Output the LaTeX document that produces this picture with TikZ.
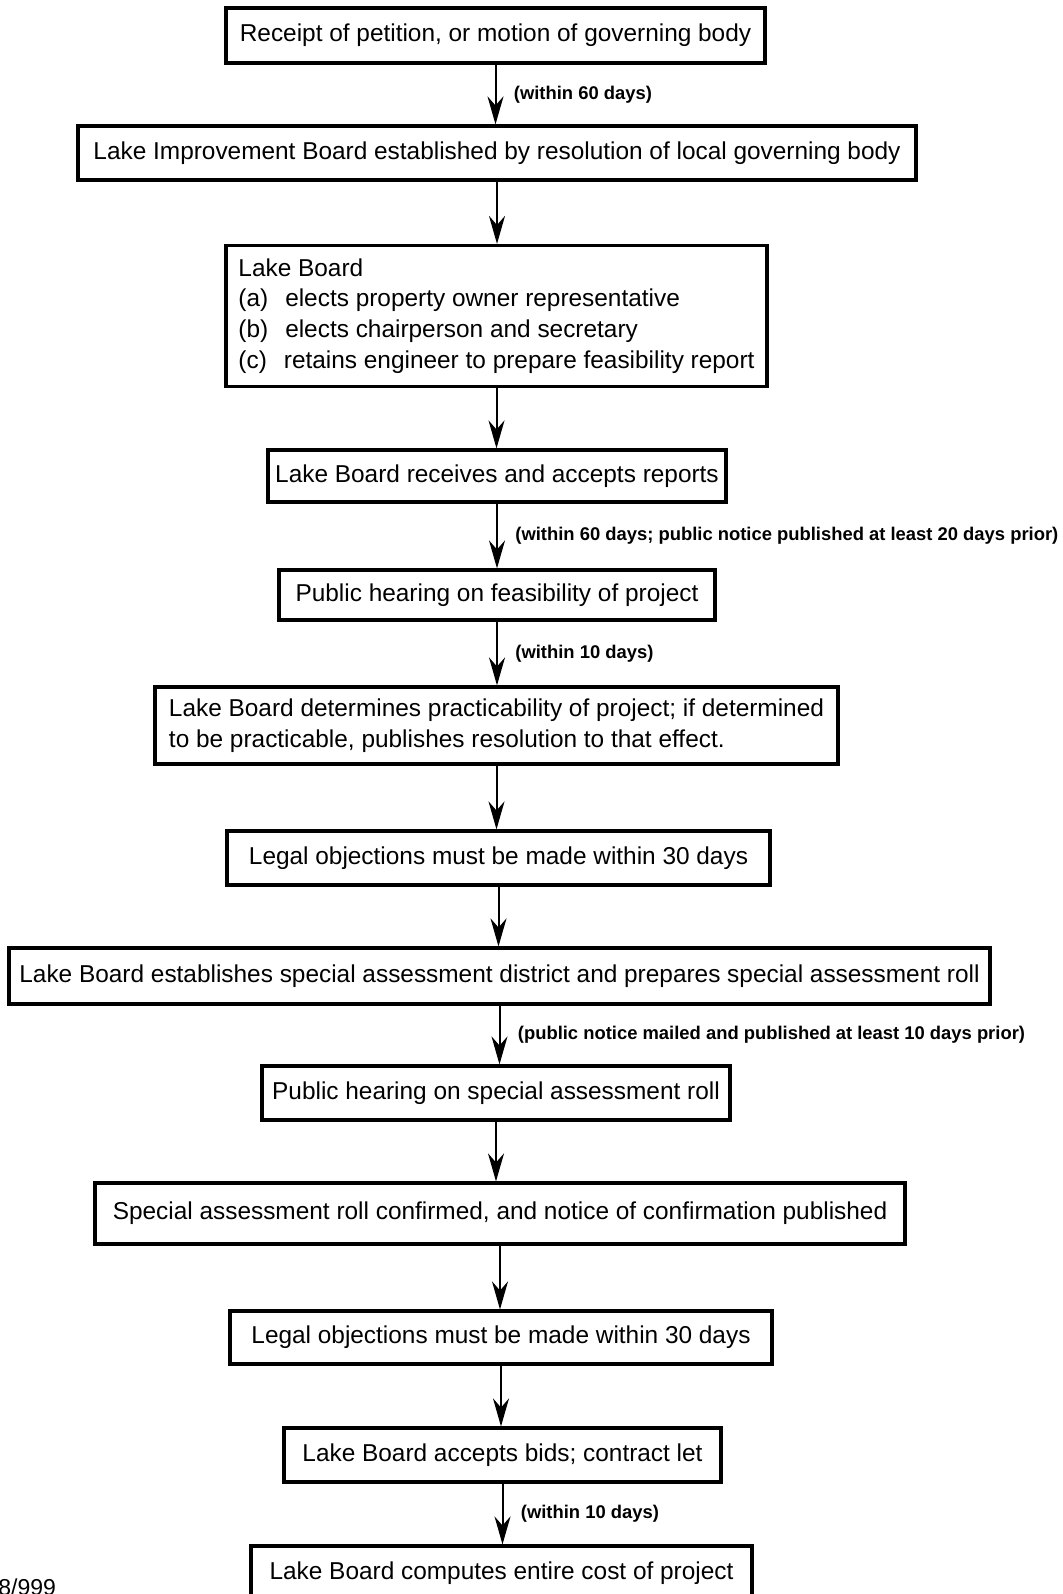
\documentclass[tikz,border=0pt]{standalone}
\usepackage{fontspec}
\setmainfont{Liberation Sans}
\usetikzlibrary{arrows.meta}

\begin{document}
\begin{tikzpicture}[
    x=0.5pt, y=-0.5pt,
    stepbox/.style={draw, line width=1.6pt, inner sep=0pt, align=left,
        font=\fontsize{12.2}{15.4}\selectfont},
    flow/.style={draw, line width=1pt, -{Stealth[length=14pt, width=8pt]}},
    note/.style={anchor=west, inner sep=0pt, xshift=9pt,
        font=\fontsize{9.2}{11}\selectfont\bfseries}
]
    \useasboundingbox (0,0) rectangle (1063,1594);

    % steps, top to bottom
    \node[stepbox, minimum width=269.5pt, minimum height=27.5pt] (b1) at (495.5,35.5)
        {Receipt of petition, or motion of governing body};
    \node[stepbox, minimum width=419pt, minimum height=27pt] (b2) at (497,153)
        {Lake Improvement Board established by resolution of local governing body};
    \node[stepbox, minimum width=270.5pt, minimum height=70.5pt] (b3) at (496.5,316)
        {Lake Board\\
         (a)\hspace{8.5pt}elects property owner representative\\
         (b)\hspace{8.5pt}elects chairperson and secretary\\
         (c)\hspace{8.5pt}retains engineer to prepare feasibility report};
    \node[stepbox, minimum width=229pt, minimum height=26pt] (b4) at (497,476)
        {Lake Board receives and accepts reports};
    \node[stepbox, minimum width=218pt, minimum height=25pt] (b5) at (497,595)
        {Public hearing on feasibility of project};
    \node[stepbox, minimum width=341.5pt, minimum height=38.5pt] (b6) at (496.5,725.5)
        {Lake Board determines practicability of project; if determined\\
         to be practicable, publishes resolution to that effect.};
    \node[stepbox, minimum width=271.5pt, minimum height=27pt] (b7) at (498.5,858)
        {Legal objections must be made within 30 days};
    \node[stepbox, minimum width=490.5pt, minimum height=28pt] (b8) at (499.5,976)
        {Lake Board establishes special assessment district and prepares special assessment roll};
    \node[stepbox, minimum width=234pt, minimum height=27pt] (b9) at (496,1093)
        {Public hearing on special assessment roll};
    \node[stepbox, minimum width=405pt, minimum height=30.5pt] (b10) at (500,1213.5)
        {Special assessment roll confirmed, and notice of confirmation published};
    \node[stepbox, minimum width=271pt, minimum height=26.5pt] (b11) at (501,1337.5)
        {Legal objections must be made within 30 days};
    \node[stepbox, minimum width=218.5pt, minimum height=27pt] (b12) at (502.5,1455)
        {Lake Board accepts bids; contract let};
    \node[stepbox, minimum width=250.5pt, minimum height=27pt] (b13) at (501.5,1573)
        {Lake Board computes entire cost of project};

    \node[anchor=base west, inner sep=0pt, font=\fontsize{11.5}{14}\selectfont] (pageno)
        at (-2,1595) {8/999};

    % connectors
    \foreach \a/\b in {b1/b2, b2/b3, b3/b4, b4/b5, b5/b6, b6/b7, b7/b8,
                       b8/b9, b9/b10, b10/b11, b11/b12, b12/b13} {
        \draw[flow] (\a.south) -- (\a.south |- \b.north);
    }

    % time limits
    \path (b1.south) -- (b1.south |- b2.north) node[note, midway] {(within 60 days)};
    \path (b4.south) -- (b4.south |- b5.north)
        node[note, midway] {(within 60 days; public notice published at least 20 days prior)};
    \path (b5.south) -- (b5.south |- b6.north) node[note, midway] {(within 10 days)};
    \path (b8.south) -- (b8.south |- b9.north)
        node[note, midway] {(public notice mailed and published at least 10 days prior)};
    \path (b12.south) -- (b12.south |- b13.north) node[note, midway] {(within 10 days)};

\end{tikzpicture}
\end{document}
